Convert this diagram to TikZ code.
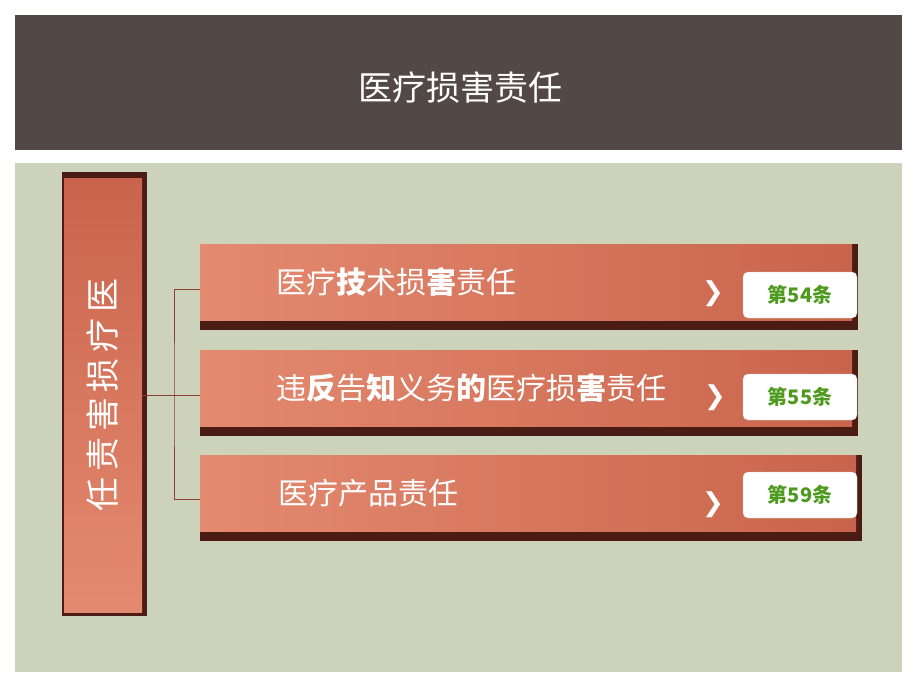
\documentclass[tikz,border=0pt]{standalone}
\usepackage{fontspec}
\setmainfont{Noto Sans CJK SC}
\newfontfamily\symfont{DejaVu Sans}
\usetikzlibrary{positioning}
\definecolor{titlebg}{HTML}{524845}
\definecolor{panelbg}{HTML}{CDD2BA}
\definecolor{barlight}{HTML}{E48A70}
\definecolor{bardark}{HTML}{C9644C}
\definecolor{barshade}{HTML}{4A1C14}
\definecolor{tagtext}{HTML}{4E9A1E}
\definecolor{linkcol}{HTML}{8A4030}
\tikzset{
  bar/.style={draw=none, left color=barlight, right color=bardark, minimum height=76, text width=500, align=left, inner xsep=6, anchor=north west, font=\fontsize{30}{30}\selectfont, text=white},
  barshadow/.style={fill=barshade},
  tag/.style={draw=gray!40, fill=white, rounded corners=5, minimum width=114, minimum height=46, font=\bfseries\fontsize{20}{20}\selectfont, text=tagtext},
  chev/.style={text=white, font=\symfont\bfseries\fontsize{26}{26}\selectfont}
}
\begin{document}
\begin{tikzpicture}[x=1pt,y=-1pt]
    \useasboundingbox (0,0) rectangle (920,690);
    \fill[white] (0,0) rectangle (920,690);

    % Title bar and panel
    \fill[titlebg] (15,15) rectangle (902,150);
    \node[text=white, font=\fontsize{34}{34}\selectfont] (title) at (460,88) {医疗损害责任};
    \fill[panelbg] (15,163) rectangle (902,672);

    % Left vertical box
    \fill[barshadow] (62,172) rectangle (147,616);
    \fill[top color=bardark, bottom color=barlight] (64,178) rectangle (142,612);
    \node[rotate=90, text=white, font=\fontsize{34}{34}\selectfont] (main) at (103,395) {任\,责\,害\,损\,疗\,医};
    \coordinate (mainR) at (142,395);

    % Bars
    \fill[barshadow] (200,244) rectangle (858,330);
    \node[bar, minimum width=652] (b1) at (200,244) {医疗\textbf{技}术损\textbf{害}责任};
    \fill[barshadow] (200,350) rectangle (858,436);
    \node[bar, minimum width=652] (b2) at (200,350) {违\textbf{反}告\textbf{知}义务\textbf{的}医疗损\textbf{害}责任};
    \fill[barshadow] (200,455) rectangle (862,541);
    \node[bar, minimum width=656] (b3) at (200,455) {医疗产品责任};

    % Chevrons and tags
    \node[chev] (c1) at (713,294) {❯};
    \node[chev] (c2) at (715,398) {❯};
    \node[chev] (c3) at (713,505) {❯};
    \node[tag] (t1) at (800,295) {第54条};
    \node[tag] (t2) at (800,397) {第55条};
    \node[tag] (t3) at (800,495) {第59条};

    % Connectors
    \coordinate (j) at (174,395);
    \draw[linkcol, thick] (mainR) -- (j);
    \draw[linkcol, thick] (b1.west |- 0,289) -| (j) |- (b3.west |- 0,499);
    \draw[linkcol, thick] (j) -- (b2.west |- j);
\end{tikzpicture}
\end{document}
